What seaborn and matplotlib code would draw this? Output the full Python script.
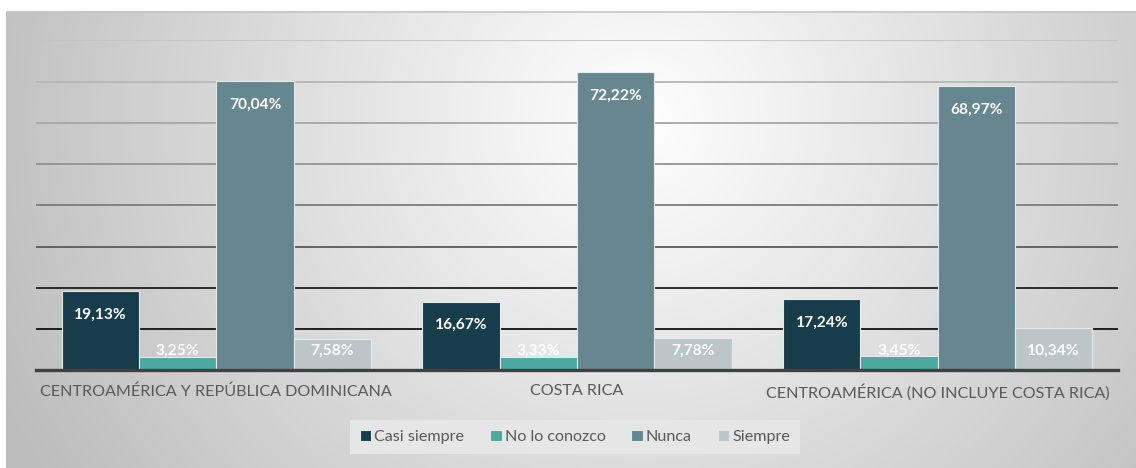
import numpy as np
import pandas as pd
import matplotlib
matplotlib.use("Agg")
import matplotlib.pyplot as plt
import seaborn as sns

# Survey responses by region (percent)
regions = [
    "CENTROAMÉRICA Y REPÚBLICA DOMINICANA",
    "COSTA RICA",
    "CENTROAMÉRICA (NO INCLUYE COSTA RICA)",
]
responses = ["Casi siempre", "No lo conozco", "Nunca", "Siempre"]
casi_siempre = [19.13, 16.67, 17.24]
no_lo_conozco = [3.25, 3.33, 3.45]
nunca = [70.04, 72.22, 68.97]
siempre = [7.58, 7.78, 10.34]

series = [casi_siempre, no_lo_conozco, nunca, siempre]
colors = ["#183d4a", "#4ba99f", "#66878f", "#bcc6c9"]

df = pd.DataFrame(
    [(reg, resp, vals[i]) for resp, vals in zip(responses, series)
     for i, reg in enumerate(regions)],
    columns=["region", "response", "value"],
)

sns.set_theme(style="white")
plt.rcParams["font.family"] = ["Lato", "DejaVu Sans"]

W, H = 1136, 468
fig = plt.figure(figsize=(W / 100, H / 100), dpi=100, facecolor="white")

# Panel with a soft radial shading
bg = fig.add_axes([6 / W, 0, (W - 6) / W, (H - 11) / H], zorder=0)
xs = np.linspace(6, W, 400)
ys = np.linspace(11, H, 180)
X, Y = np.meshgrid(xs, ys)
d = np.sqrt(((X - 640) / 1.0) ** 2 + ((Y - 120) / 0.95) ** 2)
L = np.clip(1.0 - 0.00037 * d, 0.74, 1.0)
img = np.dstack([L, L, L])
bg.imshow(img, aspect="auto", extent=[6, W, H, 11], interpolation="bilinear")
bg.set_xlim(6, W)
bg.set_ylim(H, 11)
bg.set_axis_off()
bg.plot([6, W], [11.5, 11.5], color="#c6c6c6", lw=1.2)

# Main plotting area
ax = fig.add_axes([36 / W, (H - 370.3) / H, 1082 / W, 330 / H], zorder=1)
ax.patch.set_alpha(0)

sns.barplot(
    data=df, x="region", y="value", hue="response",
    order=regions, hue_order=responses, palette=colors,
    saturation=1, width=0.857, edgecolor="#e4e9ea", linewidth=0.8,
    ax=ax, errorbar=None,
)

ax.set_ylim(0, 80)
ax.set_xlim(-0.5, 2.5)
ticks = list(range(0, 90, 10))
ax.set_yticks(ticks)
ax.set_axisbelow(True)
ax.yaxis.grid(True)
grid_colors = {10: "#111111", 20: "#1e1e1e", 30: "#5a5a5a", 40: "#7c7c7c",
               50: "#939393", 60: "#a6a6a6", 70: "#b6b6b6", 80: "#c4c4c4"}
for gl, t in zip(ax.get_ygridlines(), ticks):
    if t in grid_colors:
        gl.set_color(grid_colors[t])
        gl.set_linewidth(1.3)
    else:
        gl.set_visible(False)
ax.tick_params(axis="y", left=False, labelleft=False)
ax.tick_params(axis="x", bottom=False, length=0, pad=10, labelsize=11.6,
               labelcolor="#595959")
ax.set_xlabel("")
ax.set_ylabel("")
for s in ["top", "right", "left"]:
    ax.spines[s].set_visible(False)
ax.spines["bottom"].set_color("#404040")
ax.spines["bottom"].set_linewidth(2.4)
ax.spines["bottom"].set_zorder(5)

# Value labels near the top of each bar
for cont, vals in zip(ax.containers, series):
    for patch, v in zip(cont.patches, vals):
        cx = patch.get_x() + patch.get_width() / 2
        ty = max(v - 5.75, 4.65)
        ax.text(cx, ty, f"{v:.2f}%".replace(".", ","), ha="center", va="center",
                color="white", fontsize=11.2, fontweight="bold", zorder=6)

# Legend
handles, labels = ax.get_legend_handles_labels()
ax.legend_.remove()
leg = fig.legend(
    handles, labels, loc="center", bbox_to_anchor=(575 / W, 1 - 437 / H),
    ncol=4, frameon=True, fancybox=False, facecolor="#e6e6e6", edgecolor="none",
    framealpha=1, handlelength=0.7, handleheight=0.7, handletextpad=0.2,
    columnspacing=1.6, borderpad=0.6, fontsize=11.6,
)
for t in leg.get_texts():
    t.set_color("#595959")
for h in leg.legend_handles:
    h.set_edgecolor("#e4e9ea")

fig.savefig("out.png", dpi=100, facecolor="white")
